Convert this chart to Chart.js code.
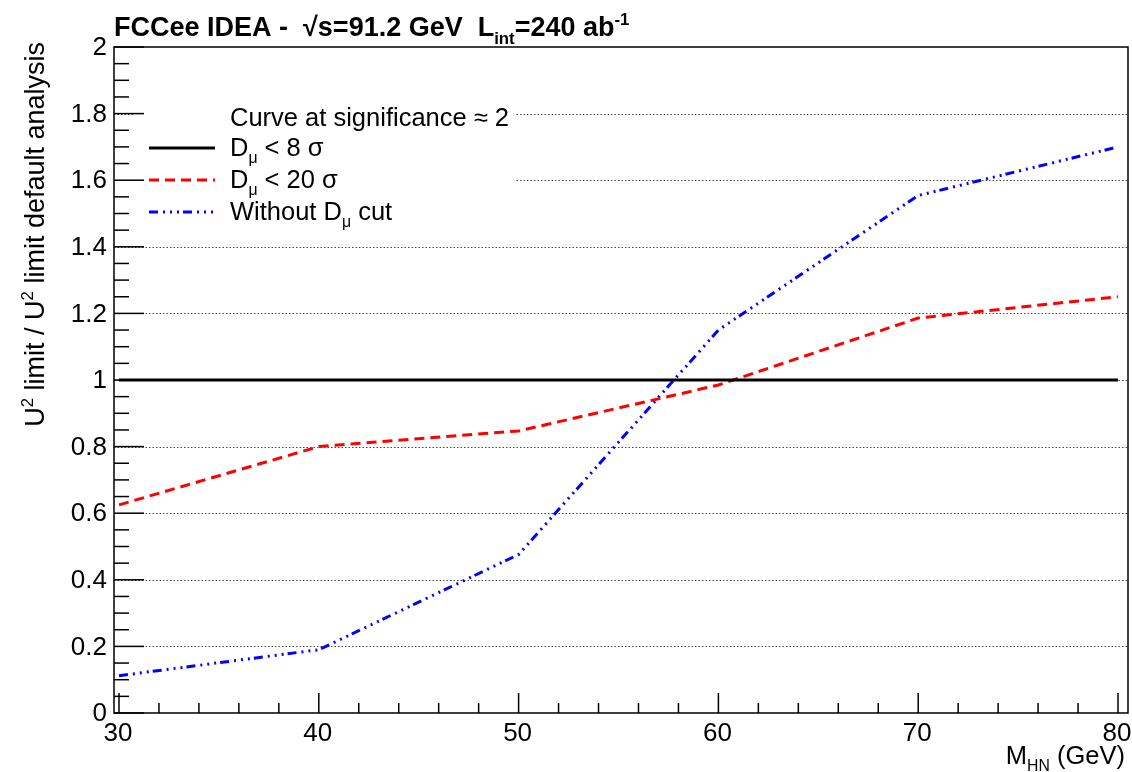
<!DOCTYPE html>
<html>
<head>
<meta charset="utf-8">
<script src="https://cdn.jsdelivr.net/npm/chart.js@4.4.0/dist/chart.umd.min.js"></script>
<style>
html,body{margin:0;padding:0;background:#fff;}
canvas{display:block;}
</style>
</head>
<body>
<canvas id="c" width="1132" height="772"></canvas>
<script>
// ---- data ----
const massPoints = [30, 40, 50, 60, 70, 80];            // M_HN (GeV)
const ratioD8 = [1.0, 1.0, 1.0, 1.0, 1.0, 1.0];          // D_mu < 8 sigma
const ratioD20 = [0.625, 0.80, 0.847, 0.985, 1.186, 1.25]; // D_mu < 20 sigma
const ratioNoCut = [0.112, 0.19, 0.476, 1.15, 1.554, 1.70]; // without D_mu cut
const xTickLabels = [30, 40, 50, 60, 70, 80];
const yTickLabels = [0, 0.2, 0.4, 0.6, 0.8, 1, 1.2, 1.4, 1.6, 1.8, 2];
const yGridValues = [0.2, 0.4, 0.6, 0.8, 1, 1.2, 1.4, 1.6, 1.8];

const FONT = '"Liberation Sans", Arial, Helvetica, sans-serif';

function pts(ys){ return massPoints.map((x,i)=>({x:x, y:ys[i]})); }

function drawRich(ctx, parts, x, y, size, weight){
  let cx = x;
  for (const [t, m] of parts){
    let s = size, dy = 0;
    if (m === 'sub'){ s = size*0.62; dy = size*0.28; }
    if (m === 'sup'){ s = size*0.62; dy = -size*0.42; }
    ctx.font = `${weight} ${s}px ${FONT}`;
    ctx.fillText(t, cx, y+dy);
    cx += ctx.measureText(t).width;
  }
  return cx - x;
}
function richWidth(ctx, parts, size, weight){
  let w = 0;
  for (const [t, m] of parts){
    let s = (m==='n') ? size : size*0.62;
    ctx.font = `${weight} ${s}px ${FONT}`;
    w += ctx.measureText(t).width;
  }
  return w;
}

const decor = {
  id: 'decor',
  beforeDatasetsDraw(chart){
    const {ctx, chartArea:a, scales:{y}} = chart;
    ctx.save();
    ctx.strokeStyle = '#444';
    ctx.lineWidth = 1;
    ctx.setLineDash([1.5,2]);
    for (const v of yGridValues){
      const py = Math.round(y.getPixelForValue(v)) + 0.5;
      ctx.beginPath(); ctx.moveTo(a.left, py); ctx.lineTo(a.right, py); ctx.stroke();
    }
    ctx.restore();
  },
  afterDatasetsDraw(chart){
    const {ctx, chartArea:a, scales:{x, y}} = chart;
    ctx.save();
    // legend box (covers grid)
    ctx.fillStyle = '#fff';
    ctx.fillRect(134, 92, 382, 136);
    ctx.fillStyle = '#000';
    ctx.textBaseline = 'alphabetic';
    ctx.textAlign = 'left';
    const lsz = 25.5;
    ctx.font = `${lsz}px ${FONT}`;
    ctx.fillText('Curve at significance \u2248 2', 230, 126);
    const rows = [
      {y:148, parts:[['D','n'],['\u03bc','sub'],[' < 8 \u03c3','n']], color:'#000', dash:[]},
      {y:180, parts:[['D','n'],['\u03bc','sub'],[' < 20 \u03c3','n']], color:'#ff0000', dash:[10,6]},
      {y:212, parts:[['Without D','n'],['\u03bc','sub'],[' cut','n']], color:'#0000ff', dash:[9,5,2,5,2,5,2,4]},
    ];
    for (const r of rows){
      ctx.save();
      ctx.strokeStyle = r.color; ctx.lineWidth = 3; ctx.setLineDash(r.dash);
      ctx.beginPath(); ctx.moveTo(149, r.y); ctx.lineTo(215, r.y); ctx.stroke();
      ctx.restore();
      ctx.fillStyle = '#000';
      drawRich(ctx, r.parts, 230, r.y+8, lsz, 'normal');
    }
    // frame
    ctx.strokeStyle = '#000';
    ctx.lineWidth = 1.5;
    ctx.setLineDash([]);
    ctx.strokeRect(a.left, a.top, a.right-a.left, a.bottom-a.top);
    // x ticks
    const xMin = xTickLabels[0], xMax = xTickLabels[xTickLabels.length-1];
    for (let v = xMin; v <= xMax + 1e-9; v += 2){
      const px = x.getPixelForValue(v);
      const major = Math.abs((v - xMin) % 10) < 1e-6;
      const len = major ? 20 : 10;
      ctx.beginPath(); ctx.moveTo(px, a.bottom); ctx.lineTo(px, a.bottom - len); ctx.stroke();
    }
    // y ticks
    for (let k = 0; k <= 40; k++){
      const v = k*0.05;
      const py = y.getPixelForValue(v);
      const len = (k % 4 === 0) ? 30 : 15;
      ctx.beginPath(); ctx.moveTo(a.left, py); ctx.lineTo(a.left + len, py); ctx.stroke();
    }
    // tick labels
    ctx.fillStyle = '#000';
    ctx.font = `26px ${FONT}`;
    ctx.textAlign = 'center';
    ctx.textBaseline = 'alphabetic';
    for (const v of xTickLabels){
      ctx.fillText(String(v), x.getPixelForValue(v) - 1, 741);
    }
    ctx.textAlign = 'right';
    ctx.textBaseline = 'middle';
    for (const v of yTickLabels){
      ctx.fillText(String(v), 107, y.getPixelForValue(v) + 1);
    }
    // x title
    ctx.textBaseline = 'alphabetic';
    ctx.textAlign = 'left';
    const xt = [['M','n'],['HN','sub'],[' (GeV)','n']];
    const xtw = richWidth(ctx, xt, 25.5, 'normal');
    drawRich(ctx, xt, 1125 - xtw, 764, 25.5, 'normal');
    // y title (rotated)
    ctx.save();
    ctx.translate(44, 42);
    ctx.rotate(-Math.PI/2);
    const yt = [['U','n'],['2','sup'],[' limit / U','n'],['2','sup'],[' limit default analysis','n']];
    const ytw = richWidth(ctx, yt, 27, 'normal');
    drawRich(ctx, yt, -ytw, 0, 27, 'normal');
    ctx.restore();
    // title
    const tt = [['FCCee IDEA -  \u221as=91.2 GeV  L','n'],['int','sub'],['=240 ab','n'],['-1','sup']];
    drawRich(ctx, tt, 114, 36, 27, 'bold');
    ctx.restore();
  }
};

new Chart(document.getElementById('c'), {
  type: 'line',
  data: {
    datasets: [
      {label:'D\u03bc < 8 \u03c3', data: pts(ratioD8), borderColor:'#000', borderWidth:3, pointRadius:0, tension:0},
      {label:'D\u03bc < 20 \u03c3', data: pts(ratioD20), borderColor:'#ff0000', borderWidth:3, borderDash:[10,6], pointRadius:0, tension:0},
      {label:'Without D\u03bc cut', data: pts(ratioNoCut), borderColor:'#0000ff', borderWidth:3, borderDash:[9,5,2,5,2,5,2,4], pointRadius:0, tension:0},
    ]
  },
  options: {
    responsive: false,
    animation: false,
    layout: {padding: {left:114, top:47, right:4, bottom:59}},
    plugins: {legend:{display:false}, tooltip:{enabled:false}, title:{display:false}},
    scales: {
      x: {type:'linear', min:29.75, max:80.5, display:false},
      y: {type:'linear', min:0, max:2, display:false}
    }
  },
  plugins: [decor]
});
</script>
</body>
</html>
